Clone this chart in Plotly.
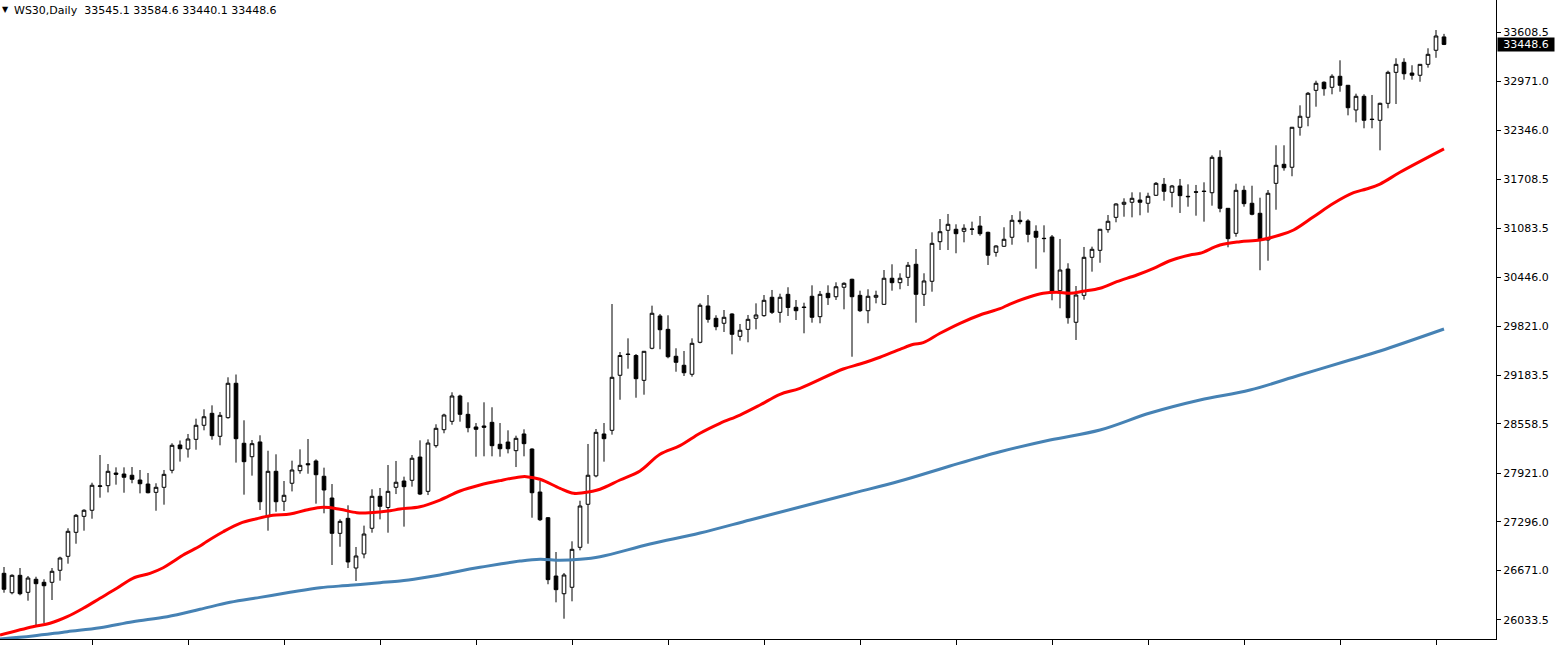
import plotly.graph_objects as go

# ---------------- data (WS30 daily) ----------------
candle_idx = list(range(181))
open_ = [26635, 26385, 26609, 26390, 26558, 26519, 26519, 26674, 26854, 27163,
         27369, 27447, 27754, 27764, 27927, 27914, 27898, 27837, 27785, 27678,
         27743, 27962, 28288, 28236, 28361, 28542, 28696, 28400, 28640, 29083,
         28310, 28137, 28327, 27364, 27949, 27563, 27795, 27957, 28047, 28082,
         27885, 27605, 27150, 27343, 26703, 26884, 27215, 27627, 27483, 27743,
         27824, 27833, 28133, 27691, 28279, 28485, 28593, 28919, 28683, 28520,
         28533, 28580, 28297, 28326, 28215, 28430, 28236, 27682, 27351, 26600,
         26372, 26455, 26970, 27524, 27890, 28430, 28477, 29186, 29460, 29441,
         29121, 29534, 29950, 29778, 29431, 29315, 29199, 29611, 30079, 29920,
         29856, 29976, 29688, 29778, 29920, 29954, 30191, 29997, 30229, 30062,
         30066, 30204, 29941, 30242, 30198, 30320, 30423, 30216, 30018, 30191,
         30100, 30436, 30379, 30448, 30616, 30229, 30397, 30907, 31054, 31067,
         31041, 31071, 31109, 31028, 30770, 30848, 30964, 31183, 31174, 31041,
         30951, 30968, 30276, 30555, 29869, 30216, 30706, 30796, 31062, 31221,
         31389, 31415, 31444, 31402, 31505, 31646, 31543, 31625, 31492, 31550,
         31559, 31538, 31994, 31337, 31015, 31569, 31402, 31273, 30929, 31659,
         31904, 31866, 32381, 32510, 32857, 32961, 32896, 33038, 32922, 32604,
         32780, 32486, 32471, 32690, 33089, 33218, 33080, 33051, 33192, 33373,
         33545.1]
high = [26716, 26622, 26703, 26600, 26591, 26558, 26703, 26849, 27215, 27399,
        27460, 27802, 28159, 28043, 28000, 28000, 28004, 27966, 27927, 27795,
        27966, 28310, 28346, 28430, 28627, 28748, 28799, 28713, 29160, 29196,
        28606, 28352, 28413, 28214, 28168, 27824, 28086, 28232, 28365, 28103,
        27996, 27785, 27330, 27511, 26974, 27249, 27717, 27734, 28030, 28082,
        27880, 28159, 28348, 28361, 28555, 28691, 28967, 28936, 28838, 28571,
        28838, 28774, 28571, 28477, 28408, 28490, 28245, 27824, 27360, 26909,
        26639, 27047, 27570, 28301, 28494, 28571, 30104, 29486, 29662, 29460,
        29499, 30083, 29976, 29959, 29534, 29499, 29662, 30113, 30220, 29959,
        30027, 29985, 29847, 29963, 30113, 30220, 30285, 30237, 30320, 30156,
        30121, 30345, 30272, 30345, 30384, 30384, 30430, 30276, 30294, 30276,
        30542, 30616, 30500, 30646, 30813, 30500, 31028, 31199, 31264, 31131,
        31131, 31165, 31238, 31036, 30861, 31093, 31251, 31299, 31196, 31118,
        31118, 30993, 30942, 30629, 30336, 30839, 30843, 31071, 31251, 31402,
        31466, 31543, 31543, 31538, 31676, 31728, 31638, 31715, 31646, 31638,
        31672, 32020, 32085, 31337, 31654, 31628, 31628, 31474, 31573, 32149,
        32149, 32385, 32664, 32836, 32981, 32973, 33064, 33244, 32926, 32814,
        32806, 32797, 32698, 33110, 33270, 33270, 33180, 33192, 33399, 33634,
        33584.6]
low = [26385, 26364, 26352, 26282, 25960, 25995, 26291, 26540, 26759, 27016,
       27184, 27338, 27609, 27677, 27777, 27673, 27795, 27665, 27665, 27441,
       27519, 27923, 28074, 28126, 28227, 28477, 28356, 28284, 28627, 28061,
       27648, 27893, 27450, 27184, 27428, 27437, 27690, 27918, 27918, 27532,
       27408, 26742, 26977, 26703, 26536, 26828, 27158, 27330, 27158, 27656,
       27236, 27751, 27643, 27643, 28253, 28439, 28549, 28588, 28451, 28137,
       28142, 28142, 28137, 28180, 28004, 28142, 27351, 27308, 26494, 26261,
       26050, 26274, 26931, 27016, 27872, 28073, 28421, 28871, 29271, 28897,
       28936, 29521, 29521, 29405, 29232, 29177, 29168, 29598, 29864, 29766,
       29744, 29456, 29632, 29611, 29778, 29941, 29976, 29864, 29950, 29898,
       29727, 29864, 29856, 30092, 30156, 30036, 29425, 30001, 29856, 30113,
       30092, 30276, 30294, 30336, 29864, 30079, 30263, 30800, 30800, 30758,
       30899, 30993, 30984, 30607, 30714, 30839, 30868, 31131, 30899, 30559,
       30770, 30152, 30049, 29851, 29641, 30160, 30521, 30636, 31023, 31157,
       31229, 31221, 31247, 31281, 31496, 31435, 31350, 31277, 31358, 31242,
       31165, 31371, 31286, 30835, 30971, 31358, 31247, 30539, 30662, 31319,
       31822, 31750, 32273, 32394, 32646, 32788, 32806, 32839, 32535, 32445,
       32368, 32368, 32084, 32626, 32681, 32994, 32994, 32968, 33149, 33276,
       33440.1]
close = [26429, 26609, 26372, 26574, 26501, 26475, 26661, 26832, 27176, 27382,
         27447, 27769, 27761, 27949, 27910, 27872, 27846, 27789, 27673, 27743,
         27910, 28284, 28240, 28365, 28542, 28652, 28408, 28670, 29083, 28369,
         28073, 28305, 27557, 27949, 27557, 27640, 27966, 28026, 28034, 27905,
         27708, 27150, 27304, 26781, 26858, 27141, 27627, 27498, 27691, 27808,
         27751, 28117, 27656, 28313, 28503, 28674, 28919, 28683, 28511, 28490,
         28516, 28279, 28240, 28240, 28374, 28305, 27673, 27325, 26553, 26424,
         26613, 26944, 27502, 27898, 28451, 28369, 29160, 29441, 29454, 29142,
         29495, 29985, 29773, 29425, 29353, 29219, 29598, 30088, 29907, 29812,
         29933, 29714, 29766, 29907, 29963, 30152, 29997, 30191, 30059, 30018,
         30059, 29933, 30229, 30186, 30327, 30371, 30198, 30018, 30204, 30216,
         30436, 30379, 30436, 30603, 30229, 30401, 30886, 31036, 31131, 31010,
         31080, 31067, 31010, 30732, 30852, 30938, 31183, 31165, 31002, 30964,
         30947, 30259, 30542, 29928, 30220, 30706, 30809, 31067, 31170, 31393,
         31415, 31466, 31415, 31492, 31659, 31556, 31625, 31500, 31487, 31545,
         31554, 31994, 31337, 30946, 31569, 31397, 31260, 30938, 31531, 31891,
         31860, 32381, 32523, 32819, 32948, 32878, 33038, 32922, 32633, 32780,
         32471, 32481, 32690, 33089, 33192, 33071, 33051, 33192, 33321, 33557,
         33448.6]

# moving averages (candle position, value)
ma_red_pos = [-0.5, 3.6, 5.75, 7.9, 9.9, 12, 14.1, 16.1, 18.25, 19.9, 21.1, 22.4,
              24.5, 25.3, 27.4, 29.5, 31.6, 33.6, 35.75, 37.8, 39.9, 42, 44.1,
              45.75, 48.25, 49.5, 52, 54.5, 57, 59.5, 62, 64.5, 65.3, 67, 69.5,
              71.2, 72.4, 74.5, 77, 79.5, 82, 84.5, 87, 89.5, 92, 94.5, 97, 99.5,
              104.9, 107, 109.5, 112, 113.7, 114.9, 117, 119.5, 122, 124.5,
              125.75, 128.25, 129.9, 131.6, 133.25, 134.9, 137, 139.1, 141.6,
              143.7, 145.75, 148.25, 149.5, 152, 154.5, 157, 159.5, 161.2,
              163.7, 166.2, 168.7, 170.3, 172, 174.5, 180]
ma_red_val = [25840, 25947, 25991, 26076, 26184, 26313, 26442, 26571, 26635, 26707,
              26784, 26871, 26987, 27042, 27171, 27279, 27338, 27382, 27399, 27450,
              27485, 27459, 27416, 27416, 27441, 27463, 27493, 27579, 27695, 27772,
              27829, 27877, 27880, 27847, 27730, 27666, 27673, 27718, 27837, 27953,
              28168, 28279, 28439, 28567, 28674, 28803, 28941, 29018, 29267, 29331,
              29418, 29521, 29585, 29606, 29727, 29856, 29963, 30044, 30104, 30198,
              30242, 30255, 30242, 30268, 30307, 30392, 30478, 30564, 30662, 30736,
              30758, 30864, 30907, 30929, 30993, 31058, 31229, 31402, 31538, 31586,
              31650, 31801, 32102]

ma_blue_pos = [-0.5, 3.6, 7.9, 12, 16.1, 20.4, 24.5, 28.25, 32, 35.75, 39.5, 43.25,
               47, 49.5, 52, 54.5, 57, 59.5, 62, 64.5, 67, 69.5, 72, 74.5, 80.75,
               87, 93.25, 99.5, 105.75, 112, 118.25, 124.5, 130.75, 137, 143.25,
               149.5, 155.75, 162, 168.25, 172, 180]
ma_blue_val = [25789, 25827, 25883, 25934, 26011, 26076, 26171, 26261, 26325, 26390,
               26450, 26480, 26514, 26536, 26571, 26613, 26665, 26712, 26755, 26793,
               26815, 26802, 26815, 26849, 27012, 27154, 27322, 27489, 27657, 27824,
               28017, 28200, 28352, 28481, 28700, 28868, 28996, 29190, 29383, 29499,
               29782]

price_ticks = [26033.5, 26671.0, 27296.0, 27921.0, 28558.5, 29183.5, 29821.0,
               30446.0, 31083.5, 31708.5, 32346.0, 32971.0, 33608.5]
time_ticks = [11, 23, 35, 47, 59, 71, 83, 95, 107, 119, 131, 143, 155, 167, 179]

symbol = "WS30,Daily"
last_ohlc = [33545.1, 33584.6, 33440.1, 33448.6]

# ---------------- figure ----------------
FONT = "DejaVu Sans"
fig = go.Figure()

fig.add_trace(go.Scatter(x=ma_blue_pos, y=ma_blue_val, mode="lines",
                         line=dict(color="#4682B4", width=3, shape="spline"),
                         hoverinfo="skip"))
fig.add_trace(go.Scatter(x=ma_red_pos, y=ma_red_val, mode="lines",
                         line=dict(color="#FF0000", width=3, shape="spline"),
                         hoverinfo="skip"))
fig.add_trace(go.Candlestick(
    x=candle_idx, open=open_, high=high, low=low, close=close,
    increasing=dict(line=dict(color="black", width=1), fillcolor="white"),
    decreasing=dict(line=dict(color="black", width=1), fillcolor="black"),
    whiskerwidth=0, hoverinfo="skip"))

fig.update_layout(
    width=1561, height=646,
    margin=dict(l=0, r=65, t=0, b=7),
    paper_bgcolor="white", plot_bgcolor="white",
    showlegend=False,
    boxgap=0.35,
    font=dict(family=FONT, size=11, color="black"),
    xaxis=dict(range=[-0.5, 186.5], showgrid=False, zeroline=False,
               showline=True, linecolor="black", linewidth=1,
               ticks="outside", ticklen=5, tickcolor="black",
               tickvals=time_ticks, showticklabels=False,
               rangeslider=dict(visible=False), fixedrange=True),
    yaxis=dict(range=[25788.6, 34020.8], side="right", showgrid=False,
               zeroline=False, showline=True, linecolor="black", linewidth=1,
               ticks="outside", ticklen=4, tickcolor="black",
               tickvals=price_ticks,
               ticktext=[f"{v:.1f}" for v in price_ticks],
               tickfont=dict(family=FONT, size=11, color="black"),
               fixedrange=True),
)

# current price marker on the price scale
fig.add_annotation(xref="paper", yref="y", x=1, y=last_ohlc[3], xanchor="left",
                   xshift=1, text=f"{last_ohlc[3]:.1f}", showarrow=False,
                   bgcolor="black", borderpad=0, width=56, height=13,
                   align="center",
                   font=dict(family=FONT, size=11, color="white"))

# header
fig.add_annotation(xref="paper", yref="paper", x=0, y=1, xanchor="left",
                   yanchor="top", xshift=0, yshift=-3, text="▼", showarrow=False,
                   font=dict(family=FONT, size=8, color="black"))
fig.add_annotation(xref="paper", yref="paper", x=0, y=1, xanchor="left",
                   yanchor="top", xshift=12, yshift=-2,
                   text=symbol + "\u00a0\u00a0" + " ".join(f"{v:.1f}" for v in last_ohlc),
                   showarrow=False, font=dict(family=FONT, size=11, color="black"))

fig.write_html("out.html")
